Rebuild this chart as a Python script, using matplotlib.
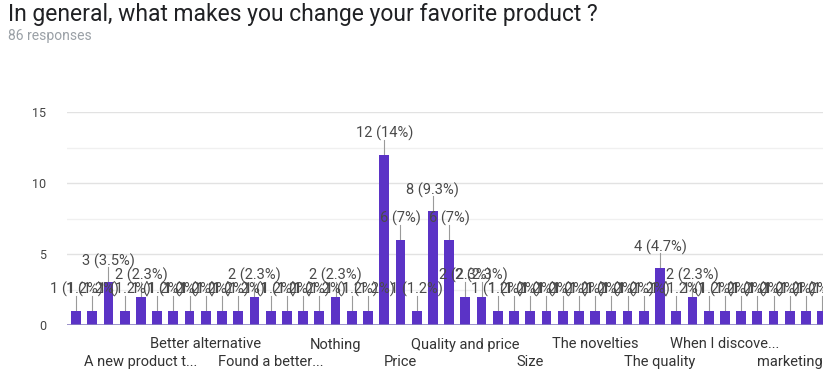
import matplotlib
matplotlib.use("Agg")
import matplotlib.pyplot as plt
import numpy as np

# answers per option, sorted the way the form lists them
counts = [1, 1, 3, 1, 2, 1, 1, 1, 1, 1, 1, 2, 1, 1, 1, 1, 2, 1, 1, 12,
          6, 1, 8, 6, 2, 2, 1, 1, 1, 1, 1, 1, 1, 1, 1, 1, 4, 1, 2, 1,
          1, 1, 1, 1, 1, 1, 1]
shown_labels = ["A new product t...", "Better alternative", "Found a better...",
                "Nothing", "Price", "Quality and price", "Size", "The novelties",
                "The quality", "When I discove...", "marketing"]
shown_at = [4, 8, 12, 16, 20, 24, 28, 32, 36, 40, 44]
total = 86

plt.rcParams["font.family"] = ["Roboto", "DejaVu Sans"]

W, H = 823, 372
fig = plt.figure(figsize=(W / 100, H / 100), dpi=100)
fig.patch.set_facecolor("white")

ax = fig.add_axes([67 / W, (H - 325) / H, (W - 67) / W, (325 - 112) / H])
x = np.arange(len(counts))
ax.bar(x, counts, width=0.6, color="#5b33c6", zorder=3)

ax.set_xlim(-0.555, 46.05)
ax.set_ylim(0, 15)

# grid: darker every 5, lighter in between
for yv in [2.5, 7.5, 12.5]:
    ax.axhline(yv, color="#f0f0f0", lw=1, zorder=1)
for yv in [5, 10, 15]:
    ax.axhline(yv, color="#e2e2e2", lw=1, zorder=1)
ax.axhline(0, color="#8a7fc0", lw=1.2, zorder=4)

for s in ax.spines.values():
    s.set_visible(False)

ax.set_yticks([0, 5, 10, 15])
ax.set_yticklabels(["0", "5", "10", "15"], fontsize=9, color="#444444")
ax.tick_params(axis="y", length=0, pad=15)

ticklabels = []
for i, lab in enumerate(shown_labels):
    if i % 2 == 0:
        ticklabels.append("\n" + lab)
    else:
        ticklabels.append(lab)
ax.set_xticks(shown_at)
ax.set_xticklabels(ticklabels, fontsize=10.5, color="#333333", linespacing=1.3)
ax.tick_params(axis="x", length=0, pad=9)

# value labels with short leader lines
for xi, c in zip(x, counts):
    pct = format(c / total * 100, ".2g")
    ax.plot([xi, xi], [c, c + 1.05], color="#9a9a9a", lw=0.8, zorder=2,
            clip_on=False)
    ax.text(xi, c + 1.5, f"{c} ({pct}%)", ha="center", va="center",
            fontsize=10.5, color="#4a4a4a", zorder=5, clip_on=False)

fig.text(8 / W, 1 - 15 / H, "In general, what makes you change your favorite product ?",
         fontsize=16.5, color="#202124", ha="left", va="center")
fig.text(8 / W, 1 - 36 / H, "86 responses", fontsize=10, color="#9aa0a6",
         ha="left", va="center")

fig.savefig("out.png", dpi=100, facecolor="white")
